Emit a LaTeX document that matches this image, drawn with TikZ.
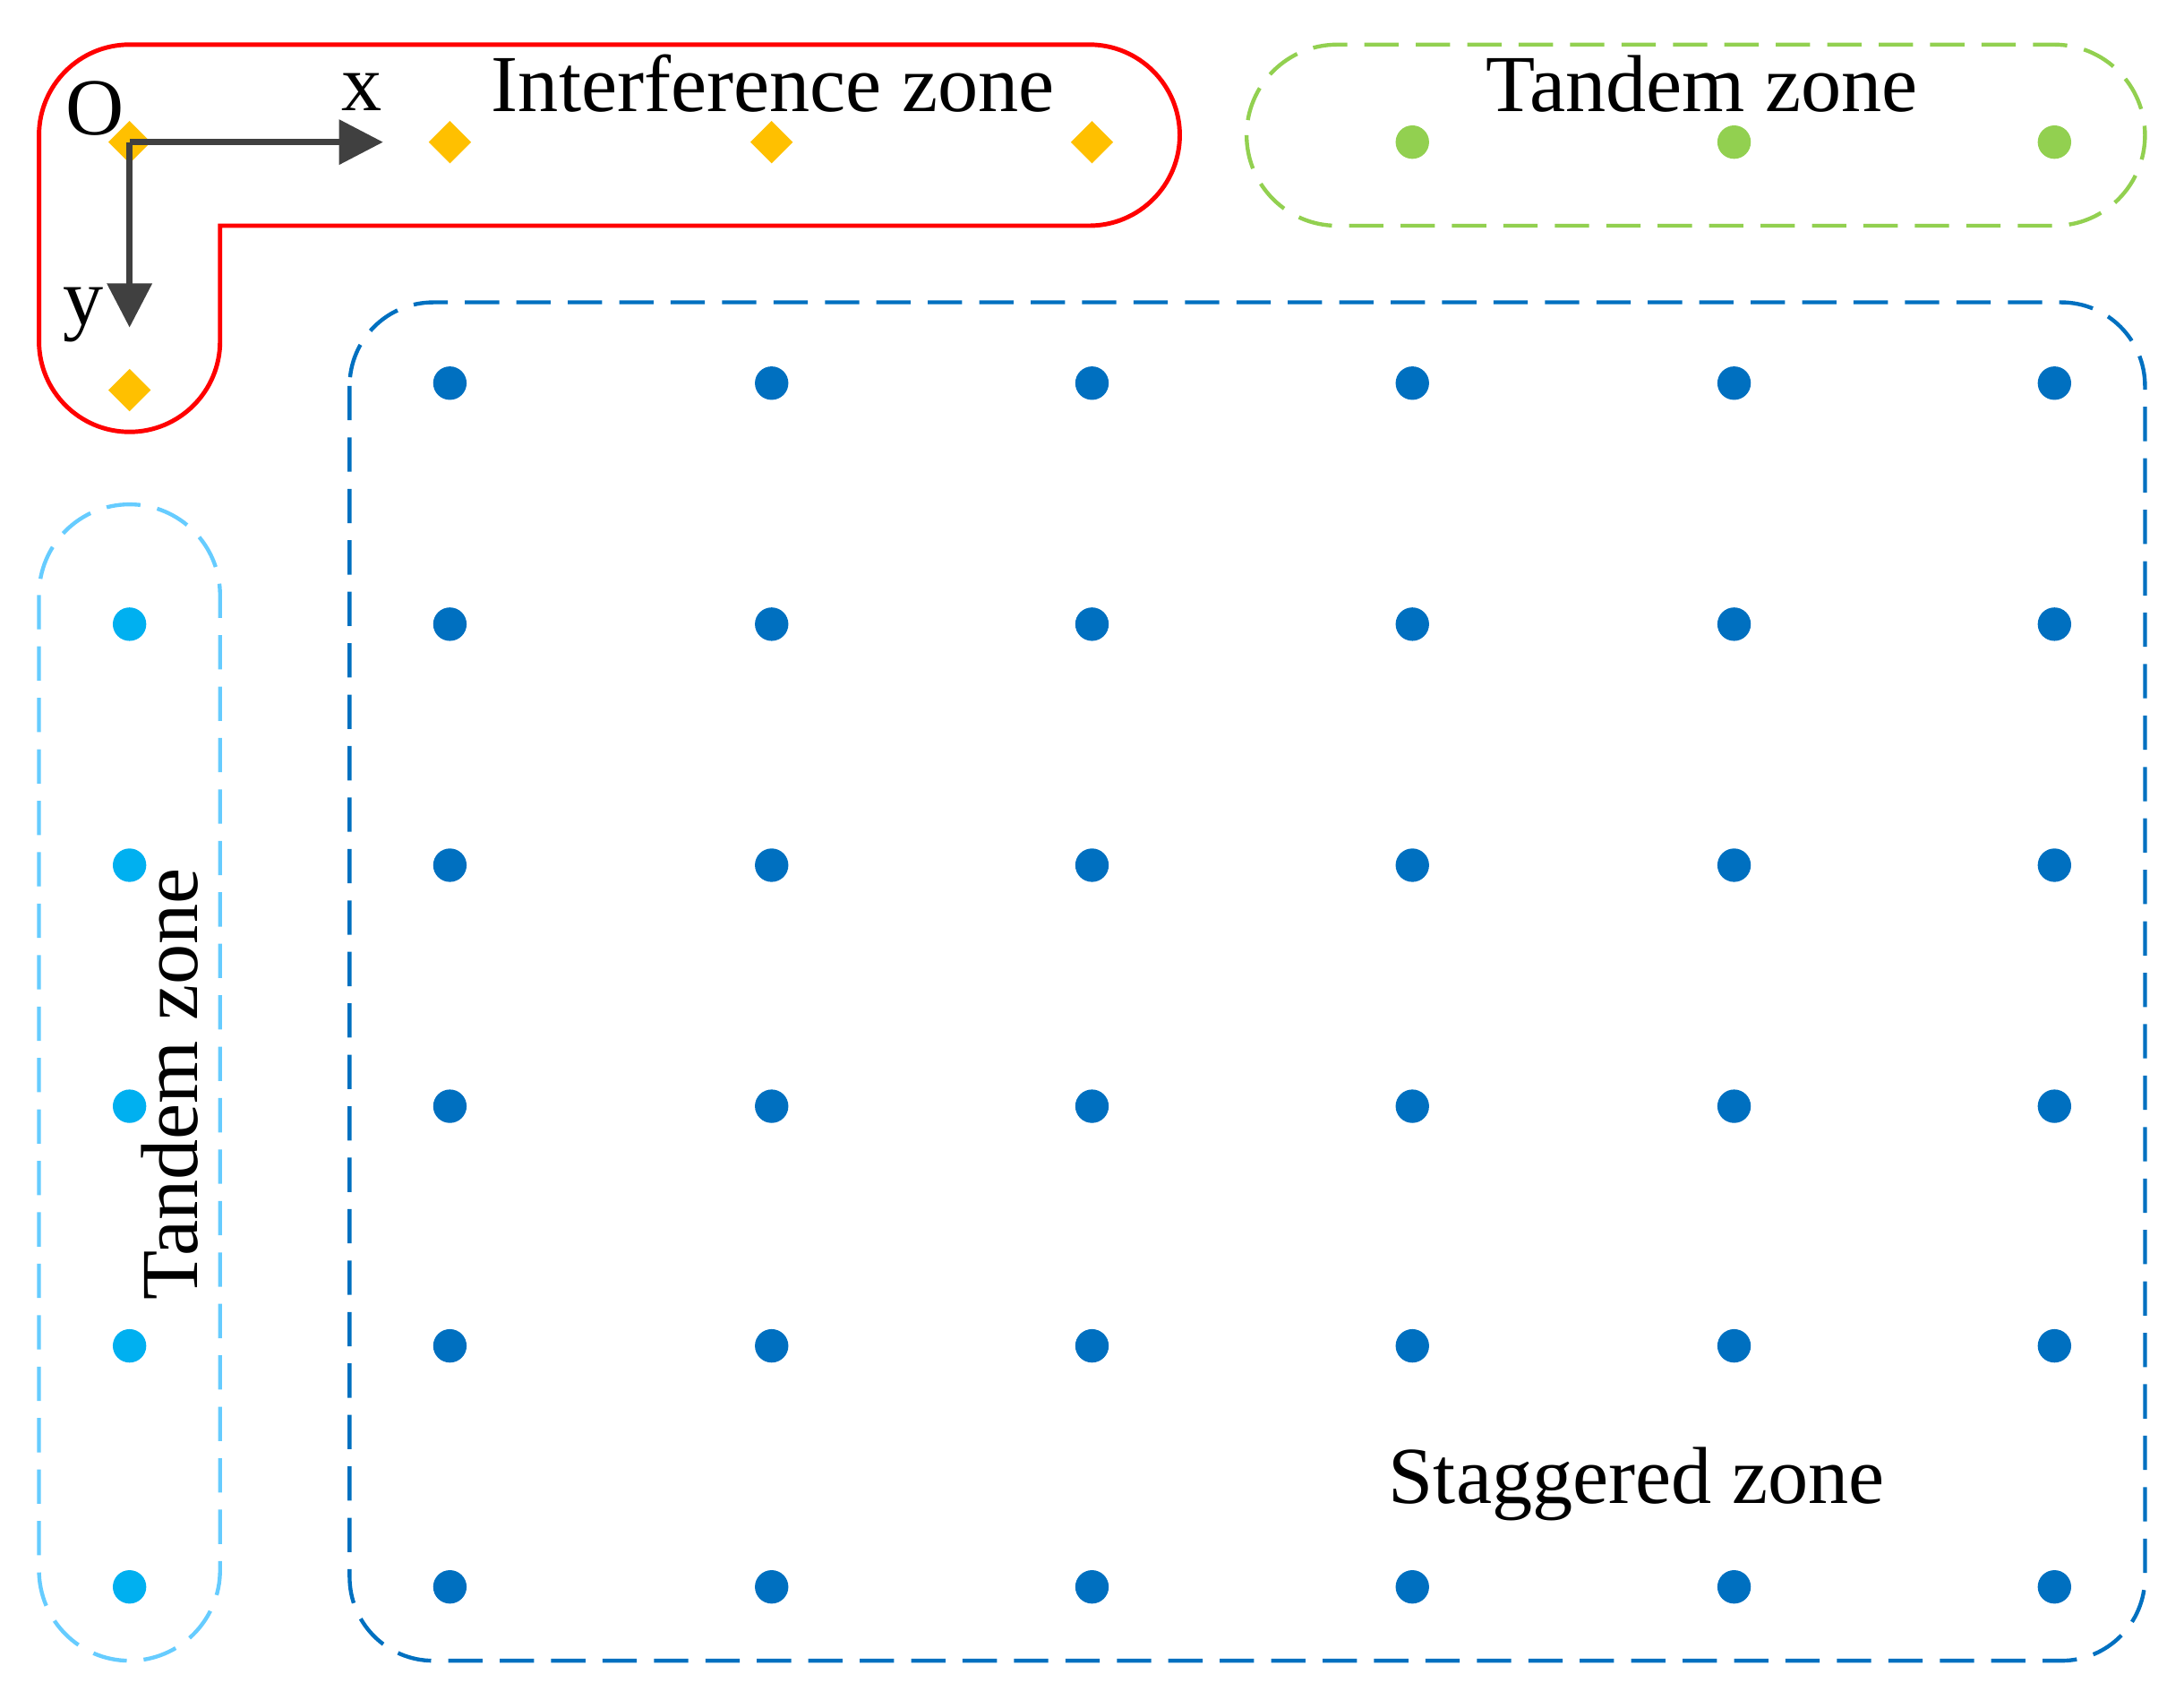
\documentclass[tikz,border=0pt]{standalone}
\usepackage{fontspec}
\setmainfont{Liberation Serif}
\usetikzlibrary{arrows.meta,shapes.geometric}
\definecolor{cor}{HTML}{FFC000}
\definecolor{cgr}{HTML}{92D050}
\definecolor{clb}{HTML}{00B0F0}
\definecolor{clbb}{HTML}{66CCFF}
\definecolor{cbl}{HTML}{0070C0}
\definecolor{cax}{HTML}{404040}
\begin{document}
\begin{tikzpicture}[x=0.01cm,y=-0.01cm,
  dot/.style={circle,inner sep=0pt,minimum size=0.24cm},
  dia/.style={diamond,fill=cor,inner sep=0pt,minimum size=0.31cm},
  lbl/.style={font=\fontsize{16.5}{20}\selectfont,inner sep=0pt},
  zone/.style={line width=0.8pt,dash pattern=on 7pt off 3.5pt},
  ax/.style={cax,line width=1.2pt,-{Triangle[length=9pt,width=9pt]}}]
\useasboundingbox (0,0) rectangle (1568,1220);
% red interference zone
\draw[red,line width=0.9pt,rounded corners=0.65cm] (158,240) -- (158,310) -- (28,310) -- (28,32) -- (847,32) -- (847,162) -- (300,162) [sharp corners] -- (158,162) -- cycle;
% zones
\draw[zone,cgr,rounded corners=0.65cm] (895,32) rectangle (1540,162);
\draw[zone,clbb,rounded corners=0.65cm] (28,362) rectangle (158,1192);
\draw[zone,cbl,rounded corners=0.6cm] (251,217) rectangle (1540,1192);
% diamonds
\node[dia] (d0) at (93,102) {};
\node[dia] (d1) at (323,102) {};
\node[dia] (d2) at (554,102) {};
\node[dia] (d3) at (784,102) {};
\node[dia] (d4) at (93,280) {};
% axes
\coordinate (xe) at (275,102);
\coordinate (ye) at (93,235);
\draw[ax] (d0.center) -- (xe);
\draw[ax] (d0.center) -- (ye);
\node[lbl] (lo) at (68,78) {O};
\node[lbl] (lx) at (260,66) {x};
\node[lbl] (ly) at (60,226) {y};
% green
\foreach \x [count=\i] in {1014,1245,1475} \node[dot,fill=cgr] (g\i) at (\x,102) {};
% light blue
\foreach \y [count=\i] in {448,621,794,966,1139} \node[dot,fill=clb] (l\i) at (93,\y) {};
% grid
\foreach \x [count=\i] in {323,554,784,1014,1245,1475}
  \foreach \y [count=\j] in {275,448,621,794,966,1139}
    \node[dot,fill=cbl] (s\i-\j) at (\x,\y) {};
% labels
\node[lbl] (ti) at (555,60) {Interference zone};
\node[lbl] (tt) at (1222,60) {Tandem zone};
\node[lbl,rotate=90] (tv) at (122,778) {Tandem zone};
\node[lbl] (ts) at (1175,1065) {Staggered zone};
\end{tikzpicture}
\end{document}
